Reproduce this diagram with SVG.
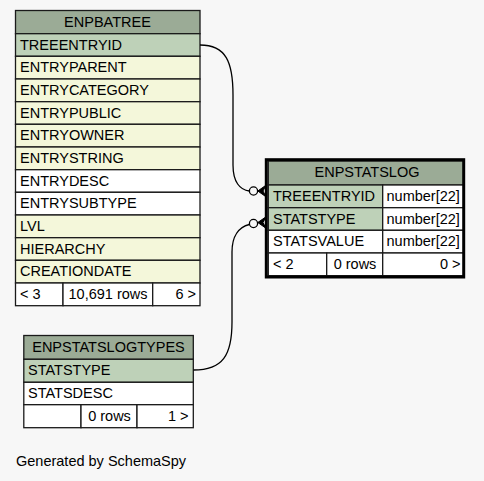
<svg xmlns="http://www.w3.org/2000/svg" width="484" height="481" viewBox="0 0 484 481">
<style>
text{font-family:"Liberation Sans",Arial,sans-serif;font-size:14.5px;fill:#000}
.c{stroke:#1a1a1a;stroke-width:1.3}
.h{fill:#9bab96}
.pk{fill:#bed1b8}
.b{fill:#f4f7da}
.w{fill:#ffffff}
.m{text-anchor:middle}
.r{text-anchor:end}
.edge{fill:none;stroke:#000;stroke-width:1.3}
</style>
<rect x="0" y="0" width="484" height="481" fill="#f7f7f7"/>

<g id="ENPBATREE">
<rect class="c h" x="15.5" y="10.5" width="184.5" height="23.2"/>
<rect class="c pk" x="15.5" y="33.7" width="184.5" height="22.6"/>
<rect class="c b" x="15.5" y="56.3" width="184.5" height="22.7"/>
<rect class="c b" x="15.5" y="79" width="184.5" height="22.7"/>
<rect class="c b" x="15.5" y="101.7" width="184.5" height="22.6"/>
<rect class="c b" x="15.5" y="124.3" width="184.5" height="22.7"/>
<rect class="c b" x="15.5" y="147" width="184.5" height="22.7"/>
<rect class="c w" x="15.5" y="169.7" width="184.5" height="22.6"/>
<rect class="c w" x="15.5" y="192.3" width="184.5" height="22.7"/>
<rect class="c b" x="15.5" y="215" width="184.5" height="22.7"/>
<rect class="c b" x="15.5" y="237.7" width="184.5" height="22.6"/>
<rect class="c b" x="15.5" y="260.3" width="184.5" height="22.7"/>
<rect class="c w" x="15.5" y="283" width="47.5" height="22.7"/>
<rect class="c w" x="63" y="283" width="89.7" height="22.7"/>
<rect class="c w" x="152.7" y="283" width="47.3" height="22.7"/>
<text class="m" x="107.5" y="27">ENPBATREE</text>
<text x="20" y="49.7">TREEENTRYID</text>
<text x="20" y="72.3">ENTRYPARENT</text>
<text x="20" y="95">ENTRYCATEGORY</text>
<text x="20" y="117.7">ENTRYPUBLIC</text>
<text x="20" y="140.3">ENTRYOWNER</text>
<text x="20" y="163">ENTRYSTRING</text>
<text x="20" y="185.7">ENTRYDESC</text>
<text x="20" y="208.3">ENTRYSUBTYPE</text>
<text x="20" y="231">LVL</text>
<text x="20" y="253.7">HIERARCHY</text>
<text x="20" y="276.3">CREATIONDATE</text>
<text x="20" y="299">&lt; 3</text>
<text x="108" y="299" class="m">10,691 rows</text>
<text x="196" y="299" class="r">6 &gt;</text>
</g>

<g id="ENPSTATSLOG">
<rect class="c h" x="268.3" y="161" width="195.4" height="24"/>
<rect class="c pk" x="268.3" y="185" width="114.4" height="22.7"/>
<rect class="c w" x="382.7" y="185" width="81" height="22.7"/>
<rect class="c pk" x="268.3" y="207.7" width="114.4" height="22.6"/>
<rect class="c w" x="382.7" y="207.7" width="81" height="22.6"/>
<rect class="c w" x="268.3" y="230.3" width="114.4" height="22.7"/>
<rect class="c w" x="382.7" y="230.3" width="81" height="22.7"/>
<rect class="c w" x="268.3" y="253" width="58.4" height="22.7"/>
<rect class="c w" x="326.7" y="253" width="56" height="22.7"/>
<rect class="c w" x="382.7" y="253" width="81" height="22.7"/>
<rect x="266.3" y="159.7" width="197.4" height="117.3" fill="none" stroke="#000" stroke-width="3"/>
<text class="m" x="367" y="177">ENPSTATSLOG</text>
<text x="273" y="201">TREEENTRYID</text>
<text x="386.5" y="201">number[22]</text>
<text x="273" y="223.7">STATSTYPE</text>
<text x="386.5" y="223.7">number[22]</text>
<text x="273" y="246.3">STATSVALUE</text>
<text x="386.5" y="246.3">number[22]</text>
<text x="273" y="269">&lt; 2</text>
<text x="355" y="269" class="m">0 rows</text>
<text x="460.5" y="269" class="r">0 &gt;</text>
</g>

<g id="ENPSTATSLOGTYPES">
<rect class="c h" x="23.8" y="335.5" width="169.5" height="23.8"/>
<rect class="c pk" x="23.8" y="359.3" width="169.5" height="23"/>
<rect class="c w" x="23.8" y="382.3" width="169.5" height="22.4"/>
<rect class="c w" x="23.8" y="404.7" width="57.2" height="23"/>
<rect class="c w" x="81" y="404.7" width="56" height="23"/>
<rect class="c w" x="137" y="404.7" width="56.3" height="23"/>
<text class="m" x="108.5" y="352">ENPSTATSLOGTYPES</text>
<text x="28" y="375">STATSTYPE</text>
<text x="28" y="397.7">STATSDESC</text>
<text x="109.5" y="420.5" class="m">0 rows</text>
<text x="188.5" y="420.5" class="r">1 &gt;</text>
</g>

<g id="connectors">
<path class="edge" d="M200,45 C226,45 233,62 233,95 L233,165 C233,182 240,190 249.3,191"/>
<circle cx="253.5" cy="191" r="4.1" fill="#f7f7f7" stroke="#000" stroke-width="1.3"/>
<polygon points="257.8,191 266,185.2 263,191 266,196.8" fill="#000" stroke="#000" stroke-width="1"/>
<path class="edge" d="M193.5,370 C223,370 232,355 232,322 L232,252 C232,236 239,227 249.3,224.5"/>
<circle cx="253.5" cy="223.5" r="4.1" fill="#f7f7f7" stroke="#000" stroke-width="1.3"/>
<polygon points="257.8,222.5 266,216.8 263,222.5 266,228.3" fill="#000" stroke="#000" stroke-width="1"/>
</g>

<text x="16" y="466">Generated by SchemaSpy</text>
</svg>
